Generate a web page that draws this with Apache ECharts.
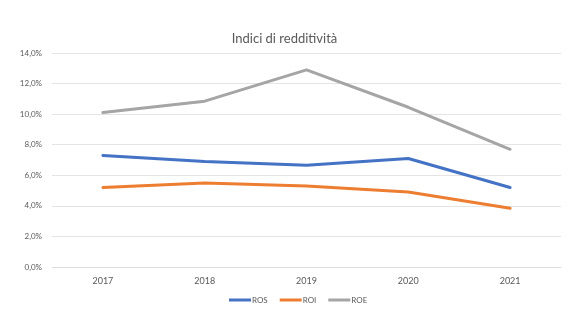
<!DOCTYPE html>
<html>
<head>
<meta charset="utf-8">
<script src="https://cdn.jsdelivr.net/npm/echarts@6/dist/echarts.min.js"></script>
<style>
  html, body { margin: 0; padding: 0; background: #ffffff; }
  #chart { width: 569px; height: 330px; }
</style>
</head>
<body>
<div id="chart"></div>
<script>
// Anni e indici di redditività (valori in %)
const years = ['2017', '2018', '2019', '2020', '2021'];
const ros = [7.3, 6.9, 6.65, 7.1, 5.2];
const roi = [5.2, 5.5, 5.3, 4.9, 3.85];
const roe = [10.1, 10.85, 12.9, 10.45, 7.7];

const font = 'Lato, "Open Sans", sans-serif';
const textColor = '#595959';

function fmt(v) {
  return v.toFixed(1).replace('.', ',') + '%';
}

const chart = echarts.init(document.getElementById('chart'), null, { renderer: 'canvas' });

function line(name, data, color) {
  return {
    name: name,
    type: 'line',
    data: data,
    symbol: 'none',
    lineStyle: { color: color, width: 3, cap: 'round', join: 'round' },
    itemStyle: { color: color }
  };
}

chart.setOption({
  animation: false,
  backgroundColor: '#ffffff',
  title: {
    text: 'Indici di redditività',
    left: 'center',
    top: 27,
    textStyle: { fontFamily: font, fontSize: 13, fontWeight: 'normal', color: textColor }
  },
  legend: {
    bottom: 21,
    left: 224,
    itemWidth: 22,
    itemHeight: 3,
    itemGap: 12,
    icon: 'rect',
    textStyle: { fontFamily: font, fontSize: 8, color: textColor, padding: [0, 0, 0, -4] },
    data: ['ROS', 'ROI', 'ROE']
  },
  grid: { left: 52, right: 8, top: 53, bottom: 63 },
  xAxis: {
    type: 'category',
    data: years,
    boundaryGap: true,
    axisLine: { lineStyle: { color: '#dedede' } },
    axisTick: { show: false },
    axisLabel: { fontFamily: font, fontSize: 9, color: textColor, margin: 10 }
  },
  yAxis: {
    type: 'value',
    min: 0,
    max: 14,
    interval: 2,
    axisLine: { show: false },
    axisTick: { show: false },
    splitLine: { lineStyle: { color: '#e4e4e4', width: 1 } },
    axisLabel: { fontFamily: font, fontSize: 8, color: textColor, margin: 10, formatter: fmt }
  },
  series: [
    line('ROS', ros, '#4472c4'),
    line('ROI', roi, '#ed7d31'),
    line('ROE', roe, '#a5a5a5')
  ]
});
</script>
</body>
</html>
